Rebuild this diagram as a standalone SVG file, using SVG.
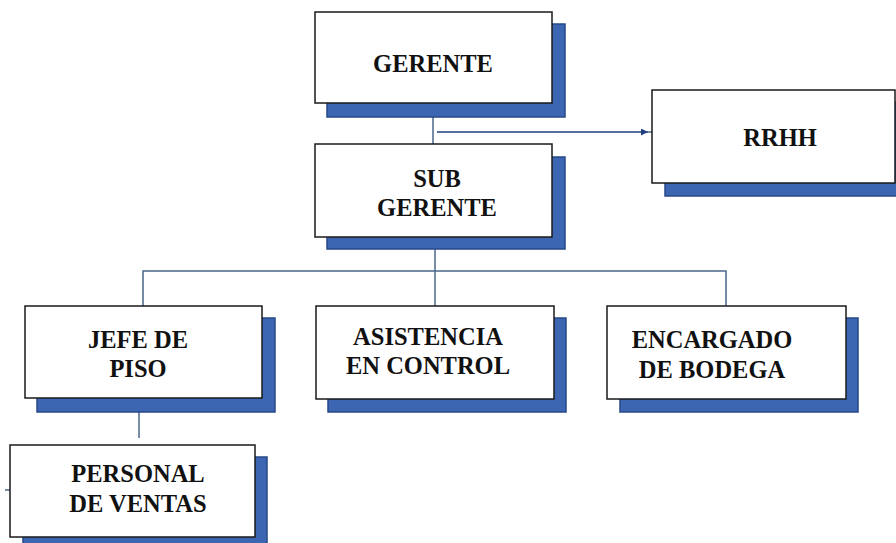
<svg xmlns="http://www.w3.org/2000/svg" width="896" height="543" viewBox="0 0 896 543">
<defs>
<marker id="ah" viewBox="0 0 10 10" refX="10" refY="5" markerWidth="7" markerHeight="7" markerUnits="userSpaceOnUse" orient="auto">
<path d="M0,0 L10,5 L0,10 z" fill="#1f3f7f"/>
</marker>
</defs>
<rect width="896" height="543" fill="#ffffff"/>
<g id="connectors" fill="none" stroke="#4a6688" stroke-width="1.5">
<line x1="433" y1="117" x2="433" y2="144"/>
<line x1="437" y1="132" x2="648" y2="132" stroke="#1f3f7f" marker-end="url(#ah)"/>
<line x1="648" y1="132" x2="652" y2="132"/>
<line x1="435" y1="249" x2="435" y2="306"/>
<polyline points="143,306 143,271 726,271 726,306"/>
<line x1="139" y1="412" x2="139" y2="438"/>
<line x1="5" y1="490" x2="10" y2="490"/>
</g>
<g id="gerente">
<rect x="327" y="24" width="238" height="93" fill="#3d66b2" stroke="#27488a" stroke-width="1.5"/>
<rect x="315" y="12" width="237" height="91" fill="#fff" stroke="#1a1a1a" stroke-width="1.5"/>
<text x="433" y="72" font-family="'Liberation Serif', serif" font-weight="bold" font-size="24.5" text-anchor="middle" fill="#111">GERENTE</text>
</g>
<g id="rrhh">
<rect x="665" y="102" width="240" height="94" fill="#3d66b2" stroke="#27488a" stroke-width="1.5"/>
<rect x="652" y="90" width="243" height="93" fill="#fff" stroke="#1a1a1a" stroke-width="1.5"/>
<text x="780" y="146" font-family="'Liberation Serif', serif" font-weight="bold" font-size="24.5" text-anchor="middle" fill="#111">RRHH</text>
</g>
<g id="subgerente">
<rect x="327" y="157" width="238" height="92" fill="#3d66b2" stroke="#27488a" stroke-width="1.5"/>
<rect x="315" y="144" width="237" height="93" fill="#fff" stroke="#1a1a1a" stroke-width="1.5"/>
<text x="437" y="187" font-family="'Liberation Serif', serif" font-weight="bold" font-size="24.5" text-anchor="middle" fill="#111">SUB</text>
<text x="437" y="216" font-family="'Liberation Serif', serif" font-weight="bold" font-size="24.5" text-anchor="middle" fill="#111">GERENTE</text>
</g>
<g id="jefe">
<rect x="37" y="318" width="238" height="94" fill="#3d66b2" stroke="#27488a" stroke-width="1.5"/>
<rect x="25" y="306" width="237" height="92" fill="#fff" stroke="#1a1a1a" stroke-width="1.5"/>
<text x="138" y="348" font-family="'Liberation Serif', serif" font-weight="bold" font-size="24.5" text-anchor="middle" fill="#111">JEFE DE</text>
<text x="138" y="377" font-family="'Liberation Serif', serif" font-weight="bold" font-size="24.5" text-anchor="middle" fill="#111">PISO</text>
</g>
<g id="asistencia">
<rect x="328" y="318" width="238" height="94" fill="#3d66b2" stroke="#27488a" stroke-width="1.5"/>
<rect x="316" y="306" width="238" height="93" fill="#fff" stroke="#1a1a1a" stroke-width="1.5"/>
<text x="428" y="345" font-family="'Liberation Serif', serif" font-weight="bold" font-size="24.5" text-anchor="middle" fill="#111">ASISTENCIA</text>
<text x="428" y="374" font-family="'Liberation Serif', serif" font-weight="bold" font-size="24.5" text-anchor="middle" fill="#111">EN CONTROL</text>
</g>
<g id="encargado">
<rect x="620" y="318" width="238" height="94" fill="#3d66b2" stroke="#27488a" stroke-width="1.5"/>
<rect x="607" y="306" width="239" height="93" fill="#fff" stroke="#1a1a1a" stroke-width="1.5"/>
<text x="712" y="348" font-family="'Liberation Serif', serif" font-weight="bold" font-size="24.5" text-anchor="middle" fill="#111">ENCARGADO</text>
<text x="712" y="378" font-family="'Liberation Serif', serif" font-weight="bold" font-size="24.5" text-anchor="middle" fill="#111">DE BODEGA</text>
</g>
<g id="personal">
<rect x="23" y="457" width="244" height="95" fill="#3d66b2" stroke="#27488a" stroke-width="1.5"/>
<rect x="10" y="445" width="245" height="92" fill="#fff" stroke="#1a1a1a" stroke-width="1.5"/>
<text x="138" y="482" font-family="'Liberation Serif', serif" font-weight="bold" font-size="24.5" text-anchor="middle" fill="#111">PERSONAL</text>
<text x="138" y="512" font-family="'Liberation Serif', serif" font-weight="bold" font-size="24.5" text-anchor="middle" fill="#111">DE VENTAS</text>
</g>
</svg>
